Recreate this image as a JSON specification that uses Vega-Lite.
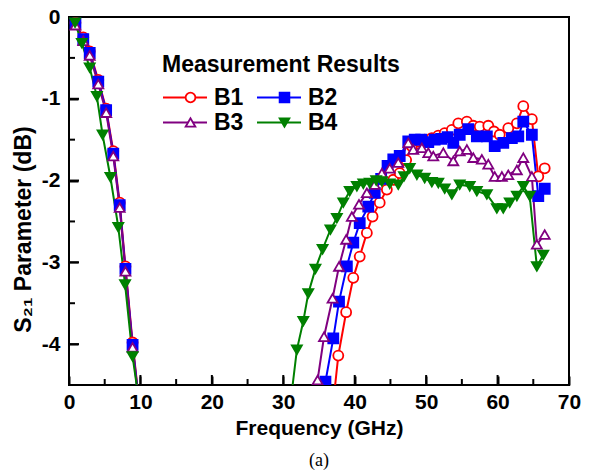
{
  "$schema": "https://vega.github.io/schema/vega-lite/v6.json",
  "width": 500,
  "height": 368,
  "autosize": "none",
  "padding": {"left": 69, "top": 17, "right": 21, "bottom": 89},
  "background": "white",
  "config": {
    "view": {"stroke": "black", "strokeWidth": 2},
    "font": "Liberation Sans"
  },
  "title": {"text": "(a)", "orient": "bottom", "anchor": "middle", "font": "Liberation Serif", "fontSize": 18, "fontWeight": "normal", "color": "black", "offset": 14},
  "datasets": {
    "xticks": [
      {"t": 10, "kind": "major"}, {"t": 20, "kind": "major"}, {"t": 30, "kind": "major"}, {"t": 40, "kind": "major"}, {"t": 50, "kind": "major"}, {"t": 60, "kind": "major"},
      {"t": 5, "kind": "minor"}, {"t": 15, "kind": "minor"}, {"t": 25, "kind": "minor"}, {"t": 35, "kind": "minor"}, {"t": 45, "kind": "minor"}, {"t": 55, "kind": "minor"}, {"t": 65, "kind": "minor"}
    ],
    "yticks": [
      {"t": -4, "kind": "major"}, {"t": -3, "kind": "major"}, {"t": -2, "kind": "major"}, {"t": -1, "kind": "major"},
      {"t": -3.5, "kind": "minor"}, {"t": -2.5, "kind": "minor"}, {"t": -1.5, "kind": "minor"}, {"t": -0.5, "kind": "minor"}
    ]
  },
  "data": {"values": [
    {"series": "B1", "band": "low", "freq": 0.9, "s21": -0.07},
    {"series": "B1", "band": "low", "freq": 2.0, "s21": -0.25},
    {"series": "B1", "band": "low", "freq": 2.9, "s21": -0.42},
    {"series": "B1", "band": "low", "freq": 4.1, "s21": -0.77},
    {"series": "B1", "band": "low", "freq": 5.2, "s21": -1.12},
    {"series": "B1", "band": "low", "freq": 6.2, "s21": -1.64},
    {"series": "B1", "band": "low", "freq": 7.1, "s21": -2.27},
    {"series": "B1", "band": "low", "freq": 7.9, "s21": -3.05},
    {"series": "B1", "band": "low", "freq": 8.9, "s21": -3.98},
    {"series": "B1", "band": "low", "freq": 9.8, "s21": -4.7},
    {"series": "B2", "band": "low", "freq": 0.9, "s21": -0.08},
    {"series": "B2", "band": "low", "freq": 2.0, "s21": -0.27},
    {"series": "B2", "band": "low", "freq": 2.9, "s21": -0.44},
    {"series": "B2", "band": "low", "freq": 4.1, "s21": -0.79},
    {"series": "B2", "band": "low", "freq": 5.2, "s21": -1.14},
    {"series": "B2", "band": "low", "freq": 6.2, "s21": -1.67},
    {"series": "B2", "band": "low", "freq": 7.1, "s21": -2.3},
    {"series": "B2", "band": "low", "freq": 7.9, "s21": -3.08},
    {"series": "B2", "band": "low", "freq": 8.9, "s21": -4.01},
    {"series": "B2", "band": "low", "freq": 9.8, "s21": -4.72},
    {"series": "B3", "band": "low", "freq": 0.9, "s21": -0.1},
    {"series": "B3", "band": "low", "freq": 2.0, "s21": -0.29},
    {"series": "B3", "band": "low", "freq": 2.9, "s21": -0.47},
    {"series": "B3", "band": "low", "freq": 4.1, "s21": -0.82},
    {"series": "B3", "band": "low", "freq": 5.2, "s21": -1.17},
    {"series": "B3", "band": "low", "freq": 6.2, "s21": -1.7},
    {"series": "B3", "band": "low", "freq": 7.1, "s21": -2.33},
    {"series": "B3", "band": "low", "freq": 7.9, "s21": -3.11},
    {"series": "B3", "band": "low", "freq": 8.9, "s21": -4.04},
    {"series": "B3", "band": "low", "freq": 9.8, "s21": -4.74},
    {"series": "B4", "band": "low", "freq": 0.85, "s21": -0.07},
    {"series": "B4", "band": "low", "freq": 1.8, "s21": -0.32},
    {"series": "B4", "band": "low", "freq": 2.9, "s21": -0.62},
    {"series": "B4", "band": "low", "freq": 3.9, "s21": -0.97},
    {"series": "B4", "band": "low", "freq": 4.7, "s21": -1.44},
    {"series": "B4", "band": "low", "freq": 5.8, "s21": -1.96},
    {"series": "B4", "band": "low", "freq": 6.9, "s21": -2.57},
    {"series": "B4", "band": "low", "freq": 7.85, "s21": -3.27},
    {"series": "B4", "band": "low", "freq": 8.9, "s21": -4.15},
    {"series": "B4", "band": "low", "freq": 9.8, "s21": -4.7},

    {"series": "B1", "band": "high", "freq": 36.9, "s21": -4.8},
    {"series": "B1", "band": "high", "freq": 37.7, "s21": -4.14},
    {"series": "B1", "band": "high", "freq": 38.8, "s21": -3.61},
    {"series": "B1", "band": "high", "freq": 39.8, "s21": -3.19},
    {"series": "B1", "band": "high", "freq": 40.7, "s21": -2.93},
    {"series": "B1", "band": "high", "freq": 41.7, "s21": -2.64},
    {"series": "B1", "band": "high", "freq": 42.5, "s21": -2.44},
    {"series": "B1", "band": "high", "freq": 43.5, "s21": -2.27},
    {"series": "B1", "band": "high", "freq": 44.5, "s21": -2.11},
    {"series": "B1", "band": "high", "freq": 45.4, "s21": -1.99},
    {"series": "B1", "band": "high", "freq": 46.3, "s21": -1.91},
    {"series": "B1", "band": "high", "freq": 47.2, "s21": -1.75},
    {"series": "B1", "band": "high", "freq": 48.0, "s21": -1.58},
    {"series": "B1", "band": "high", "freq": 48.9, "s21": -1.52},
    {"series": "B1", "band": "high", "freq": 49.8, "s21": -1.5},
    {"series": "B1", "band": "high", "freq": 50.8, "s21": -1.48},
    {"series": "B1", "band": "high", "freq": 51.7, "s21": -1.45},
    {"series": "B1", "band": "high", "freq": 52.6, "s21": -1.42},
    {"series": "B1", "band": "high", "freq": 53.6, "s21": -1.38},
    {"series": "B1", "band": "high", "freq": 54.5, "s21": -1.3},
    {"series": "B1", "band": "high", "freq": 55.7, "s21": -1.28},
    {"series": "B1", "band": "high", "freq": 56.6, "s21": -1.33},
    {"series": "B1", "band": "high", "freq": 57.5, "s21": -1.34},
    {"series": "B1", "band": "high", "freq": 58.7, "s21": -1.33},
    {"series": "B1", "band": "high", "freq": 59.5, "s21": -1.4},
    {"series": "B1", "band": "high", "freq": 60.3, "s21": -1.44},
    {"series": "B1", "band": "high", "freq": 61.5, "s21": -1.36},
    {"series": "B1", "band": "high", "freq": 62.7, "s21": -1.3},
    {"series": "B1", "band": "high", "freq": 63.6, "s21": -1.09},
    {"series": "B1", "band": "high", "freq": 64.8, "s21": -1.25},
    {"series": "B1", "band": "high", "freq": 65.7, "s21": -1.95},
    {"series": "B1", "band": "high", "freq": 66.6, "s21": -1.85},

    {"series": "B2", "band": "high", "freq": 35.2, "s21": -4.8},
    {"series": "B2", "band": "high", "freq": 35.9, "s21": -4.46},
    {"series": "B2", "band": "high", "freq": 37.0, "s21": -3.93},
    {"series": "B2", "band": "high", "freq": 37.8, "s21": -3.48},
    {"series": "B2", "band": "high", "freq": 38.9, "s21": -3.05},
    {"series": "B2", "band": "high", "freq": 39.8, "s21": -2.76},
    {"series": "B2", "band": "high", "freq": 40.7, "s21": -2.52},
    {"series": "B2", "band": "high", "freq": 41.9, "s21": -2.32},
    {"series": "B2", "band": "high", "freq": 42.8, "s21": -2.15},
    {"series": "B2", "band": "high", "freq": 43.7, "s21": -1.98},
    {"series": "B2", "band": "high", "freq": 44.6, "s21": -1.82},
    {"series": "B2", "band": "high", "freq": 45.4, "s21": -1.74},
    {"series": "B2", "band": "high", "freq": 46.3, "s21": -1.7},
    {"series": "B2", "band": "high", "freq": 47.5, "s21": -1.52},
    {"series": "B2", "band": "high", "freq": 48.4, "s21": -1.5},
    {"series": "B2", "band": "high", "freq": 49.3, "s21": -1.5},
    {"series": "B2", "band": "high", "freq": 50.3, "s21": -1.53},
    {"series": "B2", "band": "high", "freq": 51.2, "s21": -1.5},
    {"series": "B2", "band": "high", "freq": 52.1, "s21": -1.49},
    {"series": "B2", "band": "high", "freq": 53.0, "s21": -1.47},
    {"series": "B2", "band": "high", "freq": 53.8, "s21": -1.54},
    {"series": "B2", "band": "high", "freq": 54.7, "s21": -1.44},
    {"series": "B2", "band": "high", "freq": 55.9, "s21": -1.37},
    {"series": "B2", "band": "high", "freq": 57.1, "s21": -1.46},
    {"series": "B2", "band": "high", "freq": 58.5, "s21": -1.46},
    {"series": "B2", "band": "high", "freq": 59.6, "s21": -1.58},
    {"series": "B2", "band": "high", "freq": 60.8, "s21": -1.54},
    {"series": "B2", "band": "high", "freq": 62.0, "s21": -1.48},
    {"series": "B2", "band": "high", "freq": 62.9, "s21": -1.46},
    {"series": "B2", "band": "high", "freq": 63.6, "s21": -1.28},
    {"series": "B2", "band": "high", "freq": 64.8, "s21": -1.44},
    {"series": "B2", "band": "high", "freq": 65.7, "s21": -2.19},
    {"series": "B2", "band": "high", "freq": 66.6, "s21": -2.1},

    {"series": "B3", "band": "high", "freq": 34.2, "s21": -4.8},
    {"series": "B3", "band": "high", "freq": 34.8, "s21": -4.44},
    {"series": "B3", "band": "high", "freq": 35.7, "s21": -3.91},
    {"series": "B3", "band": "high", "freq": 36.9, "s21": -3.44},
    {"series": "B3", "band": "high", "freq": 37.8, "s21": -3.05},
    {"series": "B3", "band": "high", "freq": 38.8, "s21": -2.72},
    {"series": "B3", "band": "high", "freq": 39.6, "s21": -2.44},
    {"series": "B3", "band": "high", "freq": 40.6, "s21": -2.29},
    {"series": "B3", "band": "high", "freq": 41.7, "s21": -2.15},
    {"series": "B3", "band": "high", "freq": 42.8, "s21": -2.05},
    {"series": "B3", "band": "high", "freq": 43.8, "s21": -1.91},
    {"series": "B3", "band": "high", "freq": 44.9, "s21": -1.85},
    {"series": "B3", "band": "high", "freq": 46.1, "s21": -1.78},
    {"series": "B3", "band": "high", "freq": 47.5, "s21": -1.54},
    {"series": "B3", "band": "high", "freq": 48.2, "s21": -1.62},
    {"series": "B3", "band": "high", "freq": 49.4, "s21": -1.6},
    {"series": "B3", "band": "high", "freq": 50.3, "s21": -1.66},
    {"series": "B3", "band": "high", "freq": 51.0, "s21": -1.7},
    {"series": "B3", "band": "high", "freq": 52.4, "s21": -1.66},
    {"series": "B3", "band": "high", "freq": 53.8, "s21": -1.76},
    {"series": "B3", "band": "high", "freq": 54.7, "s21": -1.64},
    {"series": "B3", "band": "high", "freq": 55.7, "s21": -1.62},
    {"series": "B3", "band": "high", "freq": 56.6, "s21": -1.72},
    {"series": "B3", "band": "high", "freq": 57.8, "s21": -1.74},
    {"series": "B3", "band": "high", "freq": 58.7, "s21": -1.8},
    {"series": "B3", "band": "high", "freq": 59.6, "s21": -1.95},
    {"series": "B3", "band": "high", "freq": 60.6, "s21": -1.95},
    {"series": "B3", "band": "high", "freq": 61.5, "s21": -1.93},
    {"series": "B3", "band": "high", "freq": 62.7, "s21": -1.87},
    {"series": "B3", "band": "high", "freq": 63.6, "s21": -1.72},
    {"series": "B3", "band": "high", "freq": 64.8, "s21": -1.95},
    {"series": "B3", "band": "high", "freq": 65.5, "s21": -2.78},
    {"series": "B3", "band": "high", "freq": 66.6, "s21": -2.66},

    {"series": "B4", "band": "high", "freq": 30.9, "s21": -4.8},
    {"series": "B4", "band": "high", "freq": 31.9, "s21": -4.07},
    {"series": "B4", "band": "high", "freq": 32.8, "s21": -3.72},
    {"series": "B4", "band": "high", "freq": 33.5, "s21": -3.38},
    {"series": "B4", "band": "high", "freq": 34.5, "s21": -3.08},
    {"series": "B4", "band": "high", "freq": 35.5, "s21": -2.84},
    {"series": "B4", "band": "high", "freq": 36.6, "s21": -2.6},
    {"series": "B4", "band": "high", "freq": 37.5, "s21": -2.46},
    {"series": "B4", "band": "high", "freq": 38.4, "s21": -2.27},
    {"series": "B4", "band": "high", "freq": 39.3, "s21": -2.13},
    {"series": "B4", "band": "high", "freq": 40.3, "s21": -2.07},
    {"series": "B4", "band": "high", "freq": 41.2, "s21": -2.04},
    {"series": "B4", "band": "high", "freq": 42.1, "s21": -2.03},
    {"series": "B4", "band": "high", "freq": 43.0, "s21": -2.0},
    {"series": "B4", "band": "high", "freq": 43.8, "s21": -2.01},
    {"series": "B4", "band": "high", "freq": 44.9, "s21": -2.04},
    {"series": "B4", "band": "high", "freq": 46.1, "s21": -2.05},
    {"series": "B4", "band": "high", "freq": 46.9, "s21": -1.95},
    {"series": "B4", "band": "high", "freq": 47.7, "s21": -1.85},
    {"series": "B4", "band": "high", "freq": 48.7, "s21": -1.93},
    {"series": "B4", "band": "high", "freq": 49.8, "s21": -1.97},
    {"series": "B4", "band": "high", "freq": 50.8, "s21": -2.02},
    {"series": "B4", "band": "high", "freq": 51.7, "s21": -2.03},
    {"series": "B4", "band": "high", "freq": 52.6, "s21": -2.1},
    {"series": "B4", "band": "high", "freq": 53.6, "s21": -2.17},
    {"series": "B4", "band": "high", "freq": 54.7, "s21": -2.05},
    {"series": "B4", "band": "high", "freq": 56.1, "s21": -2.07},
    {"series": "B4", "band": "high", "freq": 57.1, "s21": -2.13},
    {"series": "B4", "band": "high", "freq": 58.5, "s21": -2.17},
    {"series": "B4", "band": "high", "freq": 59.9, "s21": -2.34},
    {"series": "B4", "band": "high", "freq": 60.8, "s21": -2.34},
    {"series": "B4", "band": "high", "freq": 61.7, "s21": -2.27},
    {"series": "B4", "band": "high", "freq": 62.7, "s21": -2.19},
    {"series": "B4", "band": "high", "freq": 63.6, "s21": -2.07},
    {"series": "B4", "band": "high", "freq": 64.5, "s21": -2.19},
    {"series": "B4", "band": "high", "freq": 65.5, "s21": -3.05},
    {"series": "B4", "band": "high", "freq": 66.4, "s21": -2.91}
  ]},
  "layer": [
    {
      "data": {"name": "xticks"},
      "transform": [{"filter": "datum.kind === 'major'"}],
      "mark": {"type": "tick", "orient": "vertical", "color": "#000000", "thickness": 2, "size": 10, "yOffset": -5, "opacity": 1},
      "encoding": {
        "x": {
          "field": "t", "type": "quantitative",
          "scale": {"domain": [0, 70], "nice": false, "zero": false},
          "axis": {
            "orient": "bottom", "offset": -9,
            "title": "Frequency (GHz)",
            "values": [0, 10, 20, 30, 40, 50, 60, 70],
            "grid": false, "ticks": true, "domain": false,
            "tickColor": "black", "tickWidth": 2, "tickSize": 9,
            "labelFont": "Liberation Sans", "labelFontSize": 21, "labelFontWeight": "bold", "labelColor": "black",
            "labelPadding": 6, "labelFlush": false,
            "titleFont": "Liberation Sans", "titleFontSize": 21, "titleFontWeight": "bold", "titleColor": "black",
            "titlePadding": 5
          }
        },
        "y": {
          "datum": -4.5, "type": "quantitative",
          "scale": {"domain": [-4.5, 0], "nice": false, "zero": false},
          "axis": {
            "orient": "left", "offset": -9,
            "title": "S₂₁ Parameter (dB)",
            "values": [-4, -3, -2, -1, 0],
            "labelExpr": "'' + datum.value",
            "grid": false, "ticks": true, "domain": false,
            "tickColor": "black", "tickWidth": 2, "tickSize": 9,
            "labelFont": "Liberation Sans", "labelFontSize": 21, "labelFontWeight": "bold", "labelColor": "black",
            "labelPadding": 9, "labelFlush": false,
            "titleFont": "Liberation Sans", "titleFontSize": 23, "titleFontWeight": "bold", "titleColor": "black",
            "titleX": -43, "titleY": 212
          }
        }
      }
    },
    {
      "data": {"name": "xticks"},
      "transform": [{"filter": "datum.kind === 'minor'"}],
      "mark": {"type": "tick", "orient": "vertical", "color": "#000000", "thickness": 2, "size": 6, "yOffset": -3, "opacity": 1},
      "encoding": {
        "x": {"field": "t", "type": "quantitative", "axis": null},
        "y": {"datum": -4.5, "type": "quantitative", "axis": null}
      }
    },
    {
      "data": {"name": "yticks"},
      "transform": [{"filter": "datum.kind === 'major'"}],
      "mark": {"type": "tick", "orient": "horizontal", "color": "#000000", "thickness": 2, "size": 10, "xOffset": 5, "opacity": 1},
      "encoding": {
        "y": {"field": "t", "type": "quantitative", "axis": null},
        "x": {"datum": 0, "type": "quantitative", "axis": null}
      }
    },
    {
      "data": {"name": "yticks"},
      "transform": [{"filter": "datum.kind === 'minor'"}],
      "mark": {"type": "tick", "orient": "horizontal", "color": "#000000", "thickness": 2, "size": 6, "xOffset": 3, "opacity": 1},
      "encoding": {
        "y": {"field": "t", "type": "quantitative", "axis": null},
        "x": {"datum": 0, "type": "quantitative", "axis": null}
      }
    },
    {
      "mark": {"type": "line", "clip": true, "strokeWidth": 2},
      "encoding": {
        "x": {"field": "freq", "type": "quantitative", "axis": null},
        "y": {"field": "s21", "type": "quantitative", "axis": null},
        "color": {
          "field": "series", "type": "nominal",
          "scale": {"domain": ["B1", "B2", "B3", "B4"], "range": ["#FF0000", "#0000FF", "#800080", "#008000"]},
          "legend": {
            "orient": "none", "legendX": 93, "legendY": 37, "columns": 2, "direction": "horizontal",
            "title": "Measurement Results", "titleLimit": 400,
            "titleFont": "Liberation Sans", "titleFontSize": 23, "titleFontWeight": "bold", "titleColor": "black", "titlePadding": 8,
            "labelFont": "Liberation Sans", "labelFontSize": 23, "labelFontWeight": "bold", "labelColor": "black",
            "symbolType": "stroke", "symbolSize": 1936, "symbolStrokeWidth": 2, "clipHeight": 25,
            "labelOffset": 6, "columnPadding": 12, "rowPadding": 0
          }
        },
        "detail": {"field": "band", "type": "nominal"}
      }
    },
    {
      "mark": {"type": "point", "clip": true, "filled": true, "strokeWidth": 1.8, "opacity": 1, "size": 100},
      "encoding": {
        "x": {"field": "freq", "type": "quantitative", "axis": null},
        "y": {"field": "s21", "type": "quantitative", "axis": null},
        "shape": {
          "field": "series", "type": "nominal",
          "scale": {"domain": ["B1", "B2", "B3", "B4"], "range": ["circle", "square", "triangle-up", "triangle-down"]},
          "legend": {
            "orient": "none", "legendX": 93, "legendY": 37, "columns": 2, "direction": "horizontal",
            "title": "Measurement Results", "titleLimit": 400,
            "titleFont": "Liberation Sans", "titleFontSize": 23, "titleFontWeight": "bold", "titleColor": "transparent", "titlePadding": 8,
            "labelFont": "Liberation Sans", "labelFontSize": 23, "labelFontWeight": "bold", "labelColor": "transparent",
            "symbolSize": 95, "symbolStrokeWidth": 1.8, "symbolOffset": 17, "clipHeight": 25,
            "labelOffset": 12, "columnPadding": 12, "rowPadding": 0
          }
        },
        "fill": {
          "field": "series", "type": "nominal",
          "scale": {"domain": ["B1", "B2", "B3", "B4"], "range": ["#FFFFFF", "#0000FF", "#FFFFFF", "#008000"]},
          "legend": {
            "orient": "none", "legendX": 93, "legendY": 37, "columns": 2, "direction": "horizontal",
            "title": "Measurement Results", "titleLimit": 400,
            "titleFont": "Liberation Sans", "titleFontSize": 23, "titleFontWeight": "bold", "titleColor": "transparent", "titlePadding": 8,
            "labelFont": "Liberation Sans", "labelFontSize": 23, "labelFontWeight": "bold", "labelColor": "transparent",
            "symbolSize": 95, "symbolStrokeWidth": 1.8, "symbolOffset": 17, "clipHeight": 25,
            "labelOffset": 12, "columnPadding": 12, "rowPadding": 0
          }
        },
        "stroke": {
          "field": "series", "type": "nominal",
          "scale": {"domain": ["B1", "B2", "B3", "B4"], "range": ["#FF0000", "#0000FF", "#800080", "#008000"]},
          "legend": {
            "orient": "none", "legendX": 93, "legendY": 37, "columns": 2, "direction": "horizontal",
            "title": "Measurement Results", "titleLimit": 400,
            "titleFont": "Liberation Sans", "titleFontSize": 23, "titleFontWeight": "bold", "titleColor": "transparent", "titlePadding": 8,
            "labelFont": "Liberation Sans", "labelFontSize": 23, "labelFontWeight": "bold", "labelColor": "transparent",
            "symbolSize": 95, "symbolStrokeWidth": 1.8, "symbolOffset": 17, "clipHeight": 25,
            "labelOffset": 12, "columnPadding": 12, "rowPadding": 0
          }
        }
      }
    }
  ],
  "resolve": {
    "axis": {"x": "independent", "y": "independent"},
    "legend": {"color": "independent", "shape": "independent", "fill": "independent", "stroke": "independent"}
  }
}
